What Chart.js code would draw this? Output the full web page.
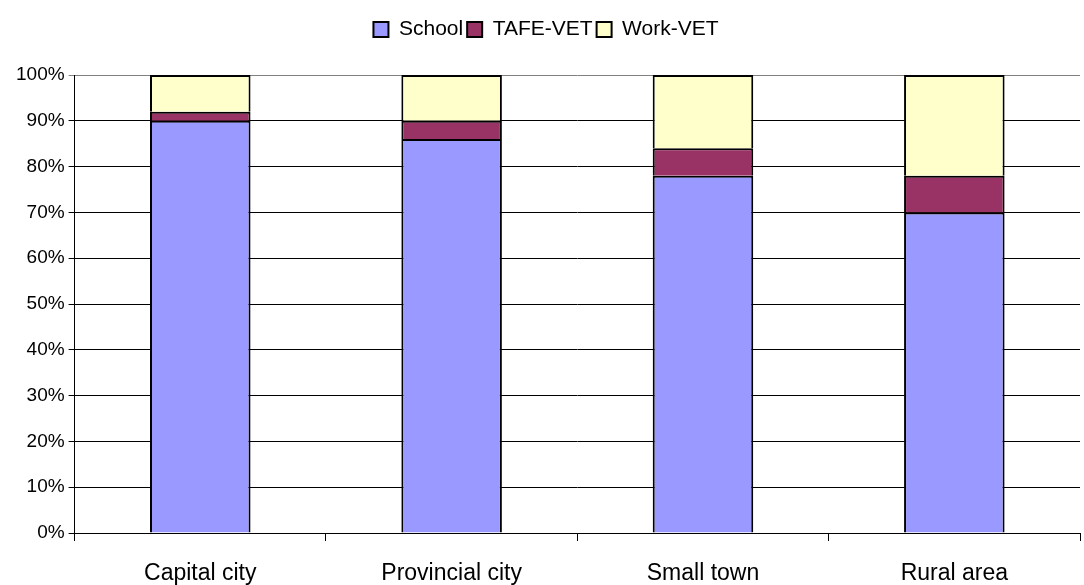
<!DOCTYPE html>
<html>
<head>
<meta charset="utf-8">
<script src="https://cdn.jsdelivr.net/npm/chart.js@4/dist/chart.umd.min.js"></script>
<style>
  html, body { margin: 0; padding: 0; background: #fff; }
  #wrap { width: 1084px; height: 585px; position: relative; }
</style>
</head>
<body>
<div id="wrap"><canvas id="myChart"></canvas></div>
<script>
// categories and series (percent of students)
var categories = ['Capital city', 'Provincial city', 'Small town', 'Rural area'];
var school = [90, 86, 78, 70];
var tafeVet = [2, 4, 6, 8];
var workVet = [8, 10, 16, 22];
var yTicks = [0, 10, 20, 30, 40, 50, 60, 70, 80, 90, 100];

Chart.defaults.font.family = "'Liberation Sans', Arial, sans-serif";
Chart.defaults.color = '#000';

// extra room between legend and plot
var legendGap = {
    id: 'legendGap',
    beforeInit: function (chart) {
        var fit = chart.legend.fit;
        chart.legend.fit = function () {
            fit.bind(chart.legend)();
            this.height += 25;
        };
    }
};

var ctx = document.getElementById('myChart').getContext('2d');
var chart = new Chart(ctx, {
    type: 'bar',
    data: {
        labels: categories,
        datasets: [{
            label: 'School',
            data: school,
            backgroundColor: '#9999ff',
            borderColor: '#000',
            borderWidth: 2
        }, {
            label: 'TAFE-VET',
            data: tafeVet,
            backgroundColor: '#993366',
            borderColor: '#000',
            borderWidth: 2
        }, {
            label: 'Work-VET',
            data: workVet,
            backgroundColor: '#ffffcc',
            borderColor: '#000',
            borderWidth: 2
        }]
    },
    plugins: [legendGap],
    options: {
        responsive: true,
        maintainAspectRatio: false,
        animation: false,
        layout: { padding: { top: 15, right: 4, left: 12, bottom: 0 } },
        datasets: { bar: { barPercentage: 0.4, categoryPercentage: 1 } },
        plugins: {
            tooltip: { enabled: false },
            legend: {
                position: 'top',
                labels: {
                    boxWidth: 15,
                    boxHeight: 15,
                    padding: 4,
                    font: { size: 21 },
                    color: '#000'
                }
            }
        },
        scales: {
            x: {
                stacked: true,
                afterFit: function (axis) { axis.height = 52; },
                grid: { drawOnChartArea: false, offset: true, color: '#000', tickLength: 8 },
                border: { display: true, color: '#000' },
                ticks: { font: { size: 23 }, padding: 19, maxRotation: 0, color: '#000' }
            },
            y: {
                stacked: true,
                min: 0,
                max: 100,
                afterBuildTicks: function (axis) {
                    axis.ticks = yTicks.map(function (v) { return { value: v }; });
                },
                grid: {
                    color: function (c) { return c.tick && c.tick.value === 100 ? '#808080' : '#000'; },
                    tickLength: 6
                },
                border: { display: true, color: '#000' },
                ticks: {
                    font: { size: 19 },
                    padding: 4,
                    color: '#000',
                    callback: function (v) { return v + '%'; }
                }
            }
        }
    }
});
</script>
</body>
</html>
